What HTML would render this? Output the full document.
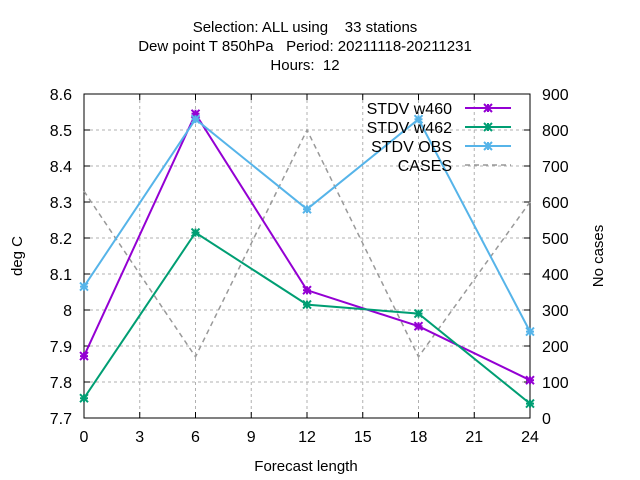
<!DOCTYPE html>
<html><head><meta charset="utf-8"><style>
body{margin:0;background:#fff}
svg{display:block;font-family:"Liberation Sans",sans-serif;font-size:16px}
text{white-space:pre}
</style></head><body>
<svg id="c" width="640" height="480">
<g text-anchor="middle" font-size="15">
<text x="305" y="32" xml:space="preserve">Selection: ALL using    33 stations</text>
<text x="305" y="51" xml:space="preserve">Dew point T 850hPa   Period: 20211118-20211231</text>
<text x="305" y="70" xml:space="preserve">Hours:  12</text>
</g>
<g id="grid"></g>
<g id="axes"></g>
<g id="series"></g>
<g id="legend"></g>
<text x="22" y="256" transform="rotate(-90 22 256)" text-anchor="middle" font-size="15">deg C</text>
<text x="603" y="256" transform="rotate(-90 603 256)" text-anchor="middle" font-size="15">No cases</text>
<text x="306" y="471" text-anchor="middle" font-size="15">Forecast length</text>
</svg>
<script>
const xTicks=[0,3,6,9,12,15,18,21,24];
const yTicks=[7.7,7.8,7.9,8,8.1,8.2,8.3,8.4,8.5,8.6];
const yTickLabels=["7.7","7.8","7.9","8","8.1","8.2","8.3","8.4","8.5","8.6"];
const y2Ticks=[0,100,200,300,400,500,600,700,800,900];
const leadTimes=[0,6,12,18,24];
const w460=[7.872,8.545,8.055,7.955,7.805];
const w462=[7.755,8.215,8.015,7.99,7.74];
const obs=[8.065,8.53,8.28,8.53,7.94];
const cases=[630,170,800,170,600];
const L=84,R=530,T=94,B=418;
const X=v=>L+(v-0)/24*(R-L);
const Y=v=>B-(v-7.7)/0.9*(B-T);
const Y2=v=>B-v/900*(B-T);
const NS="http://www.w3.org/2000/svg";
function mk(p,tag,a){const e=document.createElementNS(NS,tag);for(const k in a)e.setAttribute(k,a[k]);p.appendChild(e);return e;}
const grid=document.getElementById('grid'),axes=document.getElementById('axes'),ser=document.getElementById('series'),leg=document.getElementById('legend');
xTicks.forEach(t=>{
 if(t>0&&t<24){const g=mk(grid,'line',{x1:X(t),x2:X(t),y1:T,y2:B,stroke:'#b0b0b0','stroke-dasharray':'3,3'});
 }
 mk(axes,'line',{x1:X(t),x2:X(t),y1:B,y2:B-6,stroke:'#000'});
 mk(axes,'line',{x1:X(t),x2:X(t),y1:T,y2:T+6,stroke:'#000'});
 const tx=mk(axes,'text',{x:X(t),y:B+24,'text-anchor':'middle'});tx.textContent=t;
 
});
yTicks.forEach((t,i)=>{
 if(i>0&&i<yTicks.length-1){const g=mk(grid,'line',{x1:L,x2:R,y1:Y(t),y2:Y(t),stroke:'#b0b0b0','stroke-dasharray':'3,3'});
 }
 mk(axes,'line',{x1:L,x2:L+6,y1:Y(t),y2:Y(t),stroke:'#000'});
 const tx=mk(axes,'text',{x:L-12,y:Y(t)+6,'text-anchor':'end'});tx.textContent=yTickLabels[i];
 
});
y2Ticks.forEach(t=>{
 mk(axes,'line',{x1:R,x2:R-6,y1:Y2(t),y2:Y2(t),stroke:'#000'});
 const tx=mk(axes,'text',{x:R+12,y:Y2(t)+6});tx.textContent=t;
 
});
const fr=mk(axes,'rect',{x:L,y:T,width:R-L,height:B-T,fill:'none',stroke:'#000'});

function star(g,x,y,c){const s=4;
 mk(g,'path',{d:`M${x-s} ${y-s}L${x+s} ${y+s}M${x-s} ${y+s}L${x+s} ${y-s}M${x-s} ${y}L${x+s} ${y}M${x} ${y-s}L${x} ${y+s}`,stroke:c,'stroke-width':2});}
const cl=mk(ser,'polyline',{points:leadTimes.map((t,i)=>X(t)+','+Y2(cases[i])).join(' '),fill:'none',stroke:'#999','stroke-width':1.5,'stroke-dasharray':'5,4'});

[[w460,'#9400d3','stdv-w460-line'],[w462,'#009e73','stdv-w462-line'],[obs,'#56b4e9','stdv-obs-line']].forEach(([d,c,n])=>{
 const g=mk(ser,'g',{});
 
 mk(g,'polyline',{points:leadTimes.map((t,i)=>X(t)+','+Y(d[i])).join(' '),fill:'none',stroke:c,'stroke-width':2});
 leadTimes.forEach((t,i)=>star(g,X(t),Y(d[i]),c));
});
[['STDV w460','#9400d3',1],['STDV w462','#009e73',1],['STDV OBS','#56b4e9',1],['CASES','#999',0]].forEach(([lab,c,m],i)=>{
 const y=108+i*19;const g=mk(leg,'g',{});
 
 const tx=mk(g,'text',{x:452,y:y+6,'text-anchor':'end'});tx.textContent=lab;
 mk(g,'line',{x1:465,x2:511,y1:y,y2:y,stroke:c,'stroke-width':m?2:1.5,'stroke-dasharray':m?'none':'5,4'});
 if(m)star(g,488,y,c);
});
</script>
</body></html>
